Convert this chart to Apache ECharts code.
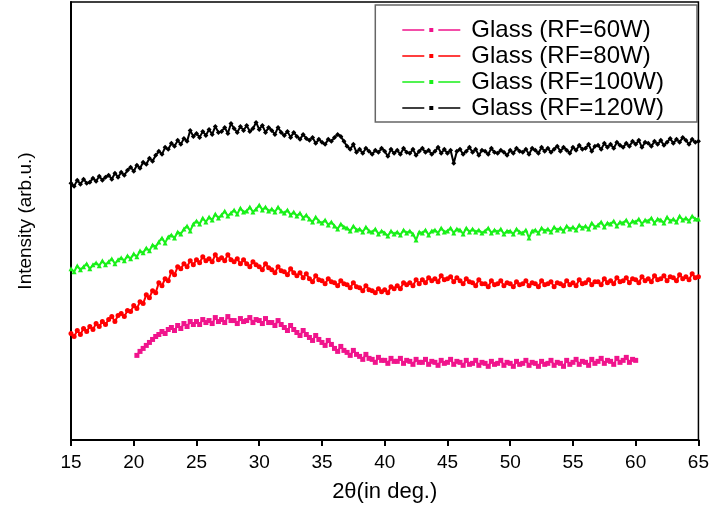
<!DOCTYPE html>
<html>
<head>
<meta charset="utf-8">
<script src="https://cdn.jsdelivr.net/npm/echarts@6/dist/echarts.min.js"></script>
<style>
  html, body { margin: 0; padding: 0; background: #fff; }
  #chart { width: 712px; height: 517px; }
</style>
</head>
<body>
<div id="chart"></div>
<script>
// 2θ step between points (deg.)
const step = 0.25

// Glass (RF=120W), 2θ 15 .. 65
const start120 = 15
const rf120 = [
  258,255,261,257, 262,258,259,263, 260,265,261,264, 266,262,268,264, 269,266,271,274,
  270,276,273,279, 277,283,280,286, 290,287,294,292, 298,295,301,297, 303,300,311,305,
  308,304,310,306, 312,307,315,309, 310,314,308,318, 313,309,315,311, 316,310,313,319,
  312,316,309,314, 311,307,314,309, 306,310,304,309, 305,302,307,303, 301,304,298,302,
  299,297,302,300, 304,307,305,300, 295,292,297,289, 292,288,293,290, 287,291,289,293,
  290,285,292,288, 291,287,293,289, 288,292,286,290, 293,289,291,287, 290,294,288,292,
  288,291,278,290, 292,287,290,294, 289,292,286,291, 290,287,293,289, 288,291,289,286,
  291,288,293,290, 289,292,287,293, 291,288,294,290, 293,289,292,295, 290,294,291,288,
  294,291,296,292, 293,297,290,295, 296,292,298,294, 297,293,299,296, 294,298,295,300,
  297,301,294,299, 298,295,300,297, 301,296,299,303, 298,302,299,304, 301,297,302,299,
  300
]

// Glass (RF=100W), 2θ 15 .. 65
const start100 = 15
const rf100 = [
  172,169,175,171, 174,177,172,176, 178,175,180,176, 179,182,177,181, 183,180,185,182,
  187,184,190,188, 193,190,196,194, 199,203,198,204, 206,203,209,207, 212,215,210,217,
  220,217,223,219, 224,221,227,223, 226,230,225,228, 231,227,233,229, 230,234,229,232,
  236,231,234,230, 232,229,234,230, 228,231,226,229, 225,228,223,226, 222,219,224,220,
  218,221,216,219, 215,212,217,214, 213,210,215,211, 212,209,214,210, 209,212,207,210,
  208,205,210,207, 209,206,211,208, 210,207,201,209, 208,211,206,210, 211,208,213,209,
  210,213,208,212, 211,207,213,209, 212,209,211,208, 210,213,208,211, 209,212,207,210,
  210,207,212,209, 208,211,203,210, 211,208,213,210, 212,209,214,211, 213,210,215,212,
  214,211,216,213, 215,212,218,214, 216,219,214,218, 217,220,215,219, 218,221,216,220,
  219,222,217,221, 220,223,218,222, 221,218,224,220, 222,219,225,221, 223,220,225,222,
  222
]

// Glass (RF=80W), 2θ 15 .. 65
const start80 = 15
const rf80 = [
  107,104,110,106, 112,109,114,111, 117,114,119,116, 121,124,119,125, 127,124,130,129,
  135,132,139,137, 146,143,150,148, 158,155,162,160, 169,166,174,172, 177,174,180,176,
  181,178,184,180, 182,179,186,181, 183,180,186,181, 179,182,177,181, 177,174,179,176,
  174,171,177,173, 171,168,174,170, 169,166,172,168, 165,168,163,167, 162,159,165,161,
  160,157,162,159, 158,155,160,157, 156,153,158,154, 153,150,155,151, 150,148,152,149,
  151,148,154,152, 155,152,158,156, 158,155,161,157, 161,158,163,160, 162,159,165,161,
  162,164,159,163, 160,157,162,159, 158,155,161,157, 157,154,160,156, 157,160,155,158,
  157,154,159,156, 157,160,155,158, 157,154,160,156, 157,159,154,158, 157,155,160,156,
  158,155,161,157, 158,161,156,159, 159,156,162,158, 160,157,163,159, 160,163,158,162,
  161,158,164,160, 162,159,165,161, 162,165,160,164, 163,160,166,162, 164,161,167,163,
  164
]

// Glass (RF=60W), 2θ 20.25 .. 60
const start60 = 20.25
const rf60 = [
  85,89,92, 95,98,101,104, 106,109,107,111, 113,110,115,112, 117,114,119,116,
  119,116,121,118, 120,117,123,119, 121,118,124,120, 120,117,122,119, 120,123,118,121,
  120,117,122,118, 118,115,120,116, 113,110,115,111, 108,105,110,106, 103,100,105,101,
  98,95,100,96, 92,89,94,90, 88,85,90,86, 84,81,86,82, 81,78,83,80,
  80,77,82,79, 79,82,77,80, 79,76,81,78, 78,81,76,79, 78,75,80,77,
  78,81,76,79, 78,75,80,76, 77,80,75,78, 77,74,79,76, 77,80,75,78,
  77,74,79,76, 77,80,75,78, 77,74,79,76, 77,80,75,78, 77,74,80,76,
  78,81,76,79, 78,75,81,77, 79,82,77,80, 79,76,82,78, 80,83,78,81,
  80
]

const xTicks = [15, 20, 25, 30, 35, 40, 45, 50, 55, 60, 65]
const legendNames = ['Glass (RF=60W)', 'Glass (RF=80W)', 'Glass (RF=100W)', 'Glass (RF=120W)']
const colors = ['#f0148c', '#ff0000', '#19f019', '#000000']
const symbols = ['rect', 'circle', 'triangle', 'diamond']

const toPairs = (start, vals) => vals.map((v, i) => [start + i * step, v])

const font = '"Liberation Sans", Arial, sans-serif'

// legend icon: line, small dot, line
const legendIcon = 'path://M0,2.3h22v1.4h-22z M27,1h4v4h-4z M36,2.3h22v1.4h-22z M0,0h0.01v0.01h-0.01z M57.99,5.99h0.01v0.01h-0.01z'

const chart = echarts.init(document.getElementById('chart'))

const makeSeries = (i, start, vals) => ({
  name: legendNames[i],
  type: 'line',
  data: toPairs(start, vals),
  symbol: symbols[i],
  symbolSize: 5,
  showSymbol: true,
  lineStyle: { color: colors[i], width: 2 },
  itemStyle: { color: colors[i], borderWidth: 0 },
  animation: false
})

const option = {
  animation: false,
  grid: {
    left: 71,
    right: 13,
    top: 2,
    bottom: 77,
    show: true,
    borderColor: '#000',
    borderWidth: 1.5
  },
  legend: {
    orient: 'vertical',
    right: 15,
    top: 5,
    padding: [13, 33, 2, 27],
    itemWidth: 58,
    itemHeight: 6,
    itemGap: 2,
    borderColor: '#666',
    borderWidth: 1.5,
    backgroundColor: '#fff',
    textStyle: { fontFamily: font, fontSize: 24, lineHeight: 24, color: '#000', padding: [0, 0, 0, 6] },
    data: legendNames.map((n, i) => ({ name: n, icon: legendIcon, itemStyle: { color: colors[i] } }))
  },
  xAxis: {
    type: 'value',
    min: 15,
    max: 65,
    interval: 5,
    name: '2θ(in deg.)',
    nameLocation: 'middle',
    nameGap: 41,
    nameTextStyle: { fontFamily: font, fontSize: 22, color: '#000' },
    axisLine: { lineStyle: { color: '#000', width: 2 } },
    axisTick: { show: true, length: 6, lineStyle: { color: '#000', width: 2 } },
    axisLabel: {
      fontFamily: font, fontSize: 19, color: '#000', margin: 13,
      formatter: v => xTicks.includes(v) ? String(v) : ''
    },
    splitLine: { show: false }
  },
  yAxis: {
    type: 'value',
    min: 0,
    max: 440,
    name: 'Intensity (arb.u.)',
    nameLocation: 'middle',
    nameGap: 36,
    nameTextStyle: { fontFamily: font, fontSize: 19, color: '#000' },
    axisLine: { show: true, lineStyle: { color: '#000', width: 2 } },
    axisTick: { show: false },
    axisLabel: { show: false },
    splitLine: { show: false }
  },
  series: [
    makeSeries(0, start60, rf60),
    makeSeries(1, start80, rf80),
    makeSeries(2, start100, rf100),
    makeSeries(3, start120, rf120)
  ]
}

chart.setOption(option)
</script>
</body>
</html>
